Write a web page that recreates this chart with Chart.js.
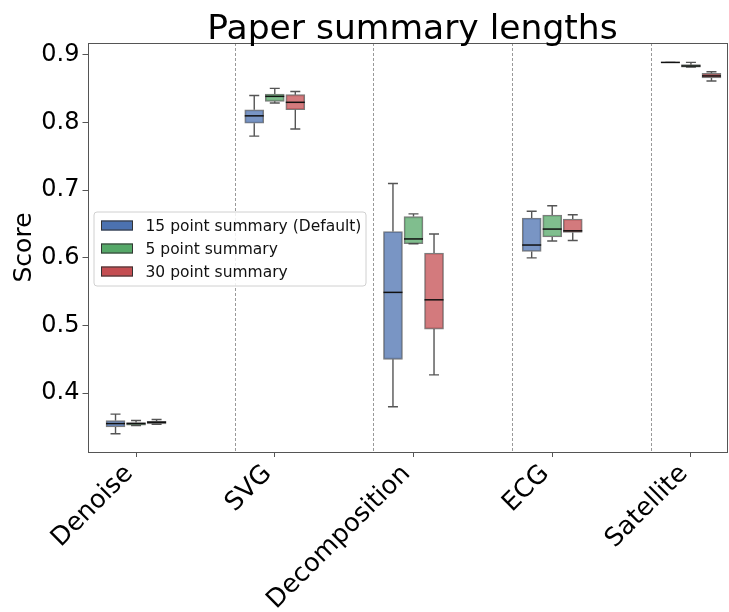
<!DOCTYPE html>
<html>
<head>
<meta charset="utf-8">
<script src="https://cdn.jsdelivr.net/npm/chart.js@4.4.1/dist/chart.umd.min.js"></script>
<style>
  body { margin: 0; background: #fff; }
  #wrap { width: 729px; height: 612px; position: relative; }
</style>
</head>
<body>
<div id="wrap"><canvas id="chart"></canvas></div>
<script>
// categories and series
const categories = ['Denoise', 'SVG', 'Decomposition', 'ECG', 'Satellite'];
const seriesNames = ['15 point summary (Default)', '5 point summary', '30 point summary'];

// each entry: [whisker low, q1, median, q3, whisker high]
const summary15 = [
    [0.340, 0.350, 0.355, 0.3595, 0.369],
    [0.780, 0.799, 0.810, 0.819, 0.840],
    [0.380, 0.450, 0.549, 0.639, 0.710],
    [0.600, 0.6095, 0.619, 0.659, 0.669],
    [0.889, 0.889, 0.889, 0.889, 0.889]
];
const summary5 = [
    [0.352, 0.3525, 0.355, 0.3565, 0.3595],
    [0.829, 0.8314, 0.8388, 0.8423, 0.8506],
    [0.621, 0.621, 0.628, 0.661, 0.665],
    [0.625, 0.631, 0.6426, 0.6633, 0.677],
    [0.882, 0.882, 0.8837, 0.8857, 0.889]
];
const summary30 = [
    [0.354, 0.3545, 0.357, 0.3585, 0.361],
    [0.7905, 0.819, 0.830, 0.8413, 0.846],
    [0.427, 0.4947, 0.538, 0.6071, 0.6352],
    [0.6257, 0.6376, 0.640, 0.6574, 0.6638],
    [0.8615, 0.866, 0.869, 0.8728, 0.8753]
];
const yTicks = [0.4, 0.5, 0.6, 0.7, 0.8, 0.9];
// dashed separators sit a bit right of the midpoint between groups
const separators = [0.71, 1.71, 2.71, 3.71];

const fills = ['rgba(76, 114, 176, 0.75)', 'rgba(85, 168, 104, 0.75)', 'rgba(196, 78, 82, 0.75)'];
const solid = ['#4c72b0', '#55a868', '#c44e52'];
const offsets = [-0.148, 0, 0.148];
const allSummaries = [summary15, summary5, summary30];

Chart.defaults.font.family = 'DejaVu Sans';
Chart.defaults.color = '#000';

function yPix(chart, v) {
    return chart.scales.y.getPixelForValue(v);
}

const boxPlugin = {
    id: 'boxExtras',
    beforeDatasetsDraw(chart) {
        const ctx = chart.ctx;
        const area = chart.chartArea;
        const xs = chart.scales.x;
        ctx.save();
        ctx.strokeStyle = '#999';
        ctx.lineWidth = 1;
        ctx.setLineDash([3, 2]);
        separators.forEach(s => {
            const px = Math.round(xs.getPixelForValue(s)) + 0.5;
            ctx.beginPath();
            ctx.moveTo(px, area.top);
            ctx.lineTo(px, area.bottom);
            ctx.stroke();
        });
        ctx.setLineDash([]);
        // whiskers and caps
        ctx.strokeStyle = '#555';
        ctx.lineWidth = 1.4;
        allSummaries.forEach((s, k) => {
            const meta = chart.getDatasetMeta(k);
            s.forEach((v, i) => {
                const cx = meta.data[i].x;
                const lo = yPix(chart, v[0]), q1 = yPix(chart, v[1]);
                const q3 = yPix(chart, v[3]), hi = yPix(chart, v[4]);
                ctx.beginPath();
                ctx.moveTo(cx, q1); ctx.lineTo(cx, lo);
                ctx.moveTo(cx, q3); ctx.lineTo(cx, hi);
                ctx.moveTo(cx - 5, lo); ctx.lineTo(cx + 5, lo);
                ctx.moveTo(cx - 5, hi); ctx.lineTo(cx + 5, hi);
                ctx.stroke();
            });
        });
        ctx.restore();
    },
    afterDatasetsDraw(chart) {
        const ctx = chart.ctx;
        ctx.save();
        // medians
        ctx.strokeStyle = '#111';
        ctx.lineWidth = 1.5;
        allSummaries.forEach((s, k) => {
            const meta = chart.getDatasetMeta(k);
            s.forEach((v, i) => {
                const cx = meta.data[i].x;
                const m = yPix(chart, v[2]);
                ctx.beginPath();
                ctx.moveTo(cx - 9.5, m);
                ctx.lineTo(cx + 9.5, m);
                ctx.stroke();
            });
        });
        ctx.restore();
    },
    afterDraw(chart) {
        const ctx = chart.ctx;
        const area = chart.chartArea;
        ctx.save();
        // frame
        ctx.strokeStyle = '#555';
        ctx.lineWidth = 1;
        ctx.strokeRect(Math.round(area.left) + 0.5, Math.round(area.top) + 0.5,
            Math.round(area.right - area.left) - 1, Math.round(area.bottom - area.top));

        // title
        ctx.fillStyle = '#000';
        ctx.font = '34.5px "DejaVu Sans"';
        ctx.textAlign = 'center';
        ctx.textBaseline = 'alphabetic';
        ctx.fillText('Paper summary lengths', 412.5, 39);

        // legend
        const lx = area.left + 6.5, ly = area.top + 169;
        const lw = 272, lh = 74;
        ctx.fillStyle = 'rgba(255,255,255,0.85)';
        ctx.strokeStyle = '#d0d0d0';
        ctx.lineWidth = 1;
        ctx.beginPath();
        ctx.roundRect(lx, ly, lw, lh, 3);
        ctx.fill();
        ctx.stroke();
        ctx.font = '15.5px "DejaVu Sans"';
        ctx.textAlign = 'left';
        ctx.textBaseline = 'middle';
        seriesNames.forEach((name, k) => {
            const cy = ly + 13.5 + k * 23;
            ctx.fillStyle = solid[k];
            ctx.fillRect(lx + 7, cy - 5, 32, 10);
            ctx.strokeStyle = '#333';
            ctx.strokeRect(lx + 7.5, cy - 4.5, 31, 9);
            ctx.fillStyle = '#111';
            ctx.fillText(name, lx + 51.5, cy + 1);
        });
        ctx.restore();
    }
};

const datasets = allSummaries.map((s, k) => ({
    label: seriesNames[k],
    data: s.map((v, i) => ({ x: i + offsets[k], y: [v[1], v[3]] })),
    backgroundColor: fills[k],
    borderColor: 'rgba(70, 70, 70, 0.7)',
    borderWidth: 1.2,
    borderSkipped: false,
    barThickness: 19,
    grouped: false
}));

new Chart(document.getElementById('chart').getContext('2d'), {
    type: 'bar',
    data: { datasets: datasets },
    options: {
        responsive: true,
        maintainAspectRatio: false,
        animation: false,
        layout: { padding: { top: 43, right: 2, left: 0, bottom: 0 } },
        plugins: {
            legend: { display: false },
            tooltip: { enabled: false },
            title: { display: false }
        },
        scales: {
            x: {
                type: 'linear',
                min: -0.35,
                max: 4.26,
                offset: false,
                afterBuildTicks: (scale) => { scale.ticks = categories.map((c, i) => ({ value: i })); },
                afterFit: (scale) => { scale.height = 160; },
                grid: { offset: false, drawOnChartArea: false, drawTicks: true, tickLength: 5, color: '#555' },
                border: { display: false },
                ticks: {
                    autoSkip: false,
                    minRotation: 45,
                    maxRotation: 45,
                    padding: 2,
                    labelOffset: -7,
                    font: { size: 25.5 },
                    callback: (v) => categories[v] !== undefined ? categories[v] : ''
                }
            },
            y: {
                min: 0.313,
                max: 0.9177,
                afterBuildTicks: (scale) => { scale.ticks = yTicks.map(v => ({ value: v })); },
                afterFit: (scale) => { scale.width = 87.5; },
                grid: { drawOnChartArea: false, drawTicks: true, tickLength: 5, color: '#555' },
                border: { display: false },
                title: { display: true, text: 'Score', font: { size: 25 }, padding: { top: 9, bottom: 0 } },
                ticks: {
                    padding: 3,
                    font: { size: 24 },
                    callback: (v) => Number(v).toFixed(1)
                }
            }
        }
    },
    plugins: [boxPlugin]
});
</script>
</body>
</html>
